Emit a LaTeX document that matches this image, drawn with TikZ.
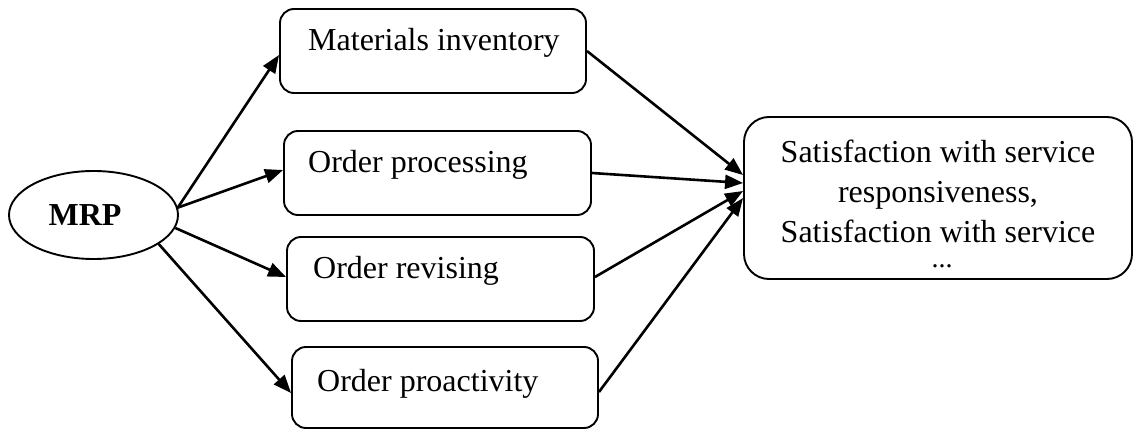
\documentclass[tikz,border=0pt]{standalone}
\usepackage{fontspec}
\setmainfont{Liberation Serif}
\usetikzlibrary{shapes.geometric,arrows.meta}
\begin{document}
\begin{tikzpicture}[x=1pt,y=-1pt,
  box/.style={draw,line width=1.9pt,rounded corners=14pt,inner sep=0pt},
  lbl/.style={inner sep=0pt,anchor=base west,font=\fontsize{32}{40}\selectfont},
  arr/.style={line width=2.6pt,-{Triangle[length=18pt,width=14pt]}}]
\useasboundingbox (0,0) rectangle (1134,430);
% MRP ellipse
\node[draw,ellipse,line width=1.9pt,minimum width=169pt,minimum height=88pt,inner sep=0pt,
      font=\bfseries\fontsize{32}{40}\selectfont] (m) at (93.5,215) {MRP\hspace*{17pt}};
% middle boxes
\node[box,minimum width=306pt,minimum height=84pt] (b1) at (433,51) {};
\node[box,minimum width=307pt,minimum height=84pt] (b2) at (437.5,173) {};
\node[box,minimum width=307pt,minimum height=84pt] (b3) at (440.5,279) {};
\node[box,minimum width=306pt,minimum height=81pt] (b4) at (445,387.5) {};
\node[lbl] (t1) at (308,51) {Materials inventory};
\node[lbl] (t2) at (308,173) {Order processing};
\node[lbl] (t3) at (313,278) {Order revising};
\node[lbl] (t4) at (317,391) {Order proactivity};
% big box
\node[box,rounded corners=25pt,minimum width=388pt,minimum height=162pt] (bb) at (938,198) {};
\node[inner sep=0pt,anchor=north,align=center,font=\fontsize{32}{40}\selectfont] (bt) at (938,140)
  {Satisfaction with service\\responsiveness,\\Satisfaction with service};
\node[inner sep=0pt,anchor=base,text height=5pt,text depth=0pt,font=\fontsize{28}{34}\selectfont] (dots) at (942,267) {...};
% arrows from MRP
\draw[arr] (m.5.6) -- ([yshift=-4pt]b1.west);
\draw[arr] (m.5.6) -- ([yshift=3pt]b2.west);
\draw[arr] (m.-9.3) -- ([yshift=2pt]b3.west);
\draw[arr] (m.-24.2) -- ([yshift=-5.5pt]b4.west);
% arrows to big box
\draw[arr] (b1.east) -- ([yshift=23pt]bb.west);
\draw[arr] (b2.east) -- ([yshift=15pt]bb.west);
\draw[arr] ([yshift=2pt]b3.east) -- ([yshift=7pt]bb.west);
\draw[arr] ([yshift=-4.5pt]b4.east) -- (bb.west);
\end{tikzpicture}
\end{document}
